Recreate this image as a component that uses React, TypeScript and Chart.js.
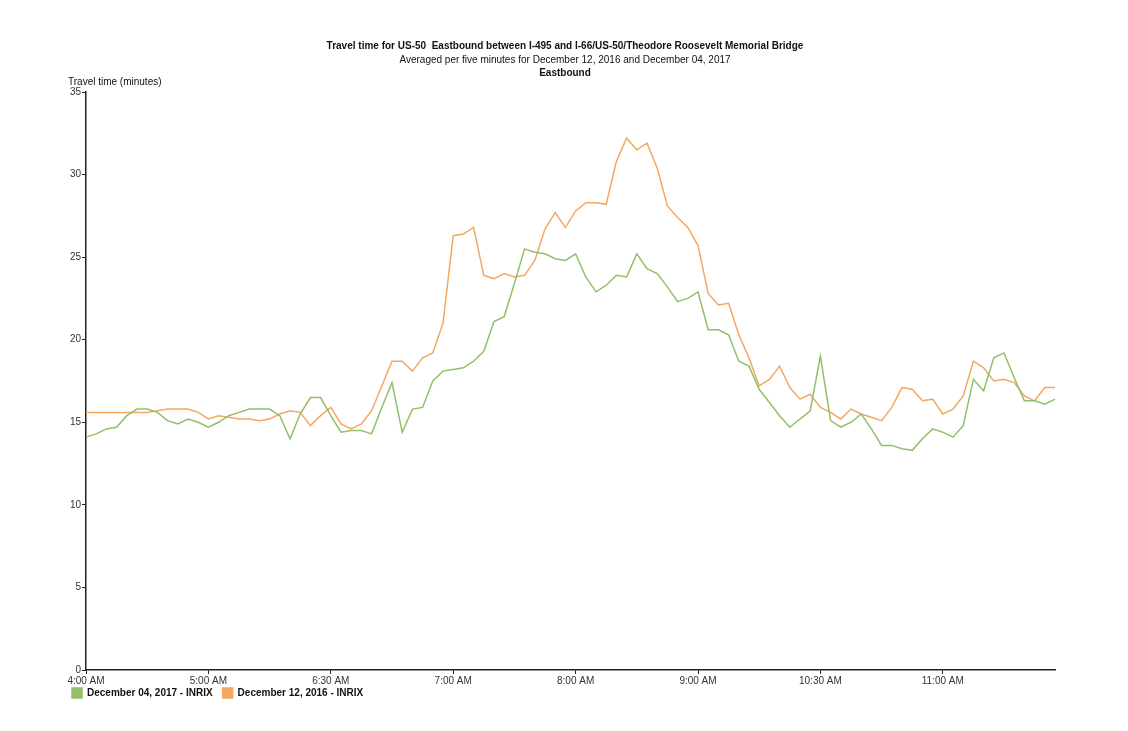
import React, { useEffect, useRef } from "react";
import { Chart, registerables } from "chart.js";

Chart.register(...registerables);

const titleText = "Travel time for US-50  Eastbound between I-495 and I-66/US-50/Theodore Roosevelt Memorial Bridge";
const subtitleText = "Averaged per five minutes for December 12, 2016 and December 04, 2017";
const sectionText = "Eastbound";
const yAxisTitle = "Travel time (minutes)";

const seriesNames = ["December 04, 2017 - INRIX", "December 12, 2016 - INRIX"];
const seriesColors = ["#93bf68", "#f3a862"];

// x tick labels, one per hour (every 12th five-minute slot)
const tickLabels = ["4:00 AM", "5:00 AM", "6:30 AM", "7:00 AM", "8:00 AM", "9:00 AM", "10:30 AM", "11:00 AM"];

// five-minute time slots, 4:00 AM to 11:55 AM
const timeSlots: string[] = [];
for (let h = 4; h < 12; h++) {
  for (let m = 0; m < 60; m += 5) {
    timeSlots.push(`${h}:${m < 10 ? "0" + m : m} AM`);
  }
}

const dec2017 = [
  14.1, 14.3, 14.6, 14.7, 15.4, 15.8, 15.8, 15.6, 15.1, 14.9, 15.2, 15.0,
  14.7, 15.0, 15.4, 15.6, 15.8, 15.8, 15.8, 15.4, 14.0, 15.5, 16.5, 16.5,
  15.4, 14.4, 14.5, 14.5, 14.3, 15.9, 17.4, 14.4, 15.8, 15.9, 17.5, 18.1,
  18.2, 18.3, 18.7, 19.3, 21.1, 21.4, 23.4, 25.5, 25.3, 25.2, 24.9, 24.8,
  25.2, 23.8, 22.9, 23.3, 23.9, 23.8, 25.2, 24.3, 24.0, 23.2, 22.3, 22.5,
  22.9, 20.6, 20.6, 20.3, 18.7, 18.4, 17.0, 16.2, 15.4, 14.7, 15.2, 15.7,
  19.0, 15.1, 14.7, 15.0, 15.5, 14.6, 13.6, 13.6, 13.4, 13.3, 14.0, 14.6,
  14.4, 14.1, 14.8, 17.6, 16.9, 18.9, 19.2, 17.7, 16.3, 16.3, 16.1, 16.4,
];

const dec2016 = [
  15.6, 15.6, 15.6, 15.6, 15.6, 15.6, 15.6, 15.7, 15.8, 15.8, 15.8, 15.6,
  15.2, 15.4, 15.3, 15.2, 15.2, 15.1, 15.2, 15.5, 15.7, 15.6, 14.8, 15.4,
  15.9, 14.9, 14.6, 14.9, 15.7, 17.2, 18.7, 18.7, 18.1, 18.9, 19.2, 21.0,
  26.3, 26.4, 26.8, 23.9, 23.7, 24.0, 23.8, 23.9, 24.8, 26.7, 27.7, 26.8,
  27.8, 28.3, 28.3, 28.2, 30.8, 32.2, 31.5, 31.9, 30.4, 28.1, 27.4, 26.8,
  25.7, 22.8, 22.1, 22.2, 20.3, 18.9, 17.2, 17.6, 18.4, 17.1, 16.4, 16.7,
  15.9, 15.6, 15.2, 15.8, 15.5, 15.3, 15.1, 15.9, 17.1, 17.0, 16.3, 16.4,
  15.5, 15.8, 16.6, 18.7, 18.3, 17.5, 17.6, 17.4, 16.6, 16.3, 17.1, 17.1,
];

const FONT = '"Liberation Sans", Arial, sans-serif';

const headerPlugin = {
  id: "headerPlugin",
  afterLayout(chart: any) {
    // pull the legend up snugly under the time axis labels
    const lg = chart.legend;
    if (lg) {
      lg.top -= 10;
      lg.bottom -= 10;
      if (lg.legendHitBoxes) lg.legendHitBoxes.forEach((b: any) => (b.top -= 10));
    }
  },
  afterDraw(chart: any) {
    const ctx = chart.ctx as CanvasRenderingContext2D;
    const cx = chart.width / 2 + 1;
    ctx.save();
    ctx.fillStyle = "#111";
    ctx.textAlign = "center";
    ctx.textBaseline = "middle";
    ctx.font = `bold 10px ${FONT}`;
    ctx.fillText(titleText, cx, 46);
    ctx.font = `10px ${FONT}`;
    ctx.fillText(subtitleText, cx, 60);
    ctx.font = `bold 10px ${FONT}`;
    ctx.fillText(sectionText, cx, 73);
    ctx.textAlign = "left";
    ctx.font = `10px ${FONT}`;
    ctx.fillText(yAxisTitle, 68, 82);
    ctx.restore();
  },
};

export default function App() {
  const canvasRef = useRef<HTMLCanvasElement | null>(null);

  useEffect(() => {
    if (!canvasRef.current) return;
    const chart = new Chart(canvasRef.current, {
      type: "line",
      data: {
        labels: timeSlots,
        datasets: [
          {
            label: seriesNames[0],
            data: dec2017,
            borderColor: seriesColors[0],
            backgroundColor: seriesColors[0],
            borderWidth: 1.5,
            pointRadius: 0,
            tension: 0,
          },
          {
            label: seriesNames[1],
            data: dec2016,
            borderColor: seriesColors[1],
            backgroundColor: seriesColors[1],
            borderWidth: 1.5,
            pointRadius: 0,
            tension: 0,
          },
        ],
      },
      options: {
        animation: false,
        responsive: true,
        maintainAspectRatio: false,
        layout: { padding: { left: 62, right: 73, top: 92, bottom: 13 } },
        plugins: {
          legend: {
            position: "bottom",
            align: "start",
            labels: {
              boxWidth: 10,
              boxHeight: 10,
              padding: 10,
              color: "#111",
              font: { family: FONT, size: 10, weight: "bold" },
            },
          },
          title: { display: false },
          tooltip: { enabled: false },
        },
        scales: {
          x: {
            type: "category",
            offset: false,
            border: { display: true, color: "#222", width: 1.5 },
            grid: {
              drawOnChartArea: false,
              drawTicks: true,
              tickLength: 4,
              tickColor: (c: any) => (c.index % 12 === 0 ? "#222" : "rgba(0,0,0,0)"),
            },
            ticks: {
              autoSkip: false,
              maxRotation: 0,
              padding: 1,
              color: "#333",
              font: { family: FONT, size: 10 },
              callback: (_v: any, i: number) => (i % 12 === 0 ? tickLabels[i / 12] : ""),
            },
          },
          y: {
            min: 0,
            max: 35,
            border: { display: true, color: "#222", width: 1.5 },
            grid: { drawOnChartArea: false, drawTicks: true, tickLength: 4, tickColor: "#222" },
            ticks: {
              stepSize: 5,
              padding: 1,
              color: "#333",
              font: { family: FONT, size: 10 },
            },
            afterFit: (scale: any) => {
              scale.width = 24;
            },
          },
        },
      },
      plugins: [headerPlugin],
    });
    return () => chart.destroy();
  }, []);

  return (
    <div
      style={{
        position: "absolute",
        left: 0,
        top: 0,
        width: 1128,
        height: 731,
        background: "#fff",
      }}
    >
      <canvas ref={canvasRef} />
    </div>
  );
}
